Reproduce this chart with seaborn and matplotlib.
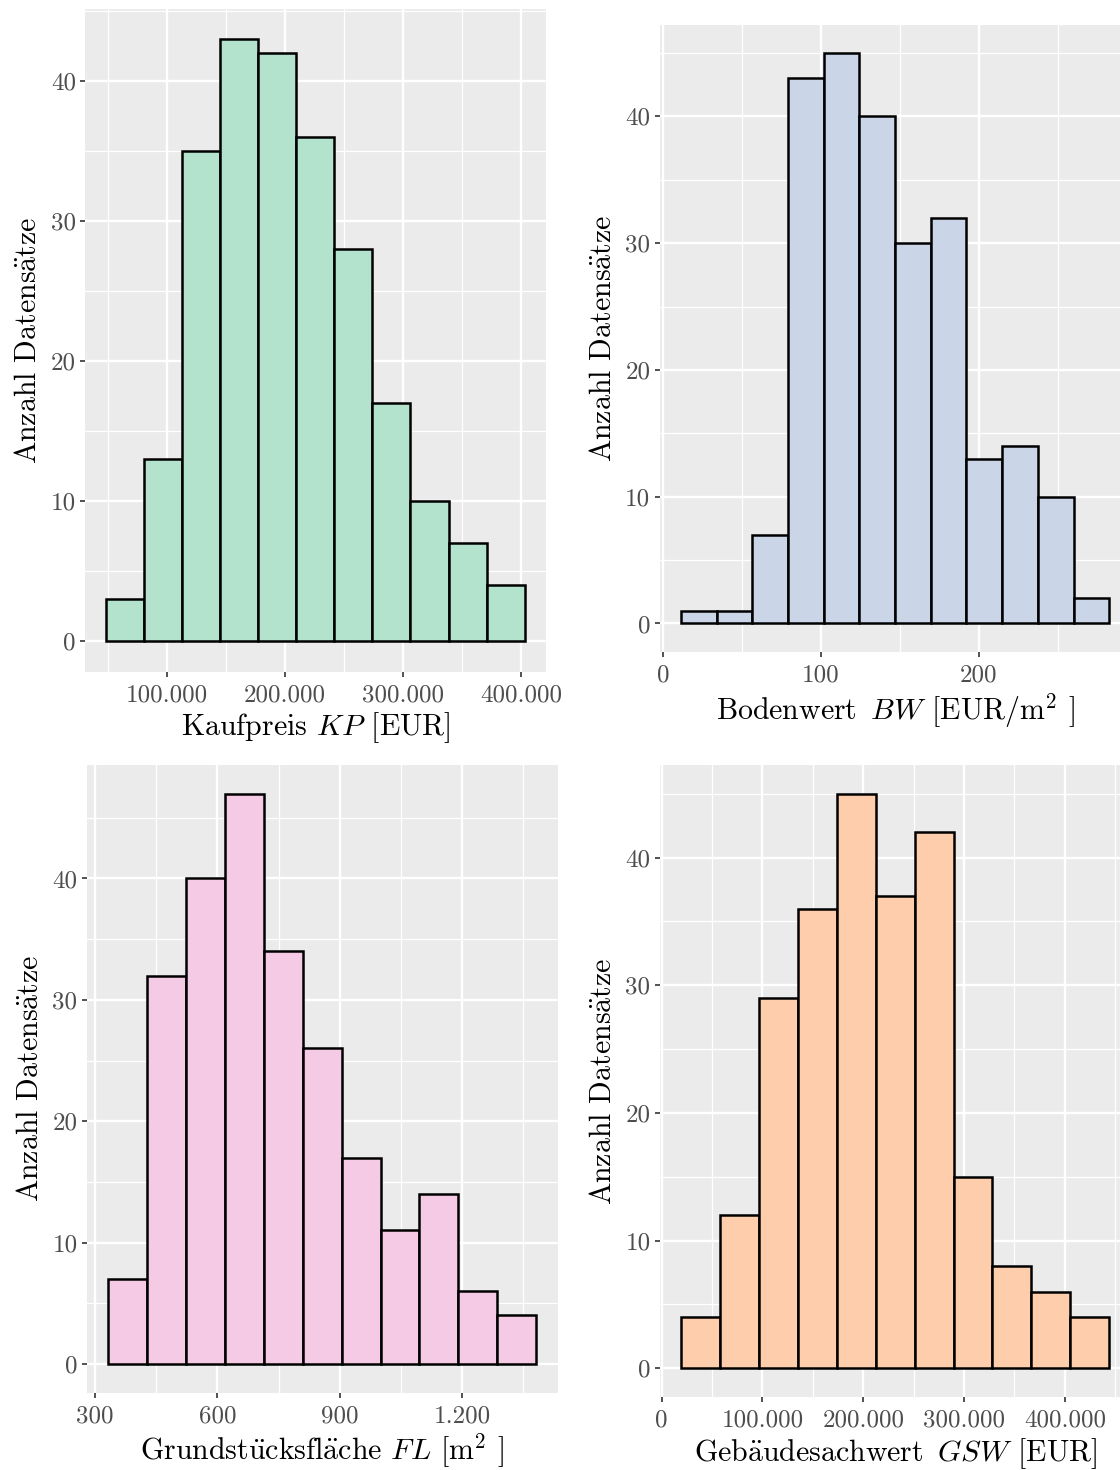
import numpy as np
import pandas as pd
import matplotlib
matplotlib.use("Agg")
import matplotlib.pyplot as plt
from matplotlib.ticker import MultipleLocator, FuncFormatter
import seaborn as sns

# Bin counts per variable (n = 238 transactions), with first bin edge and bin width
kp_counts = [3, 13, 35, 43, 42, 36, 28, 17, 10, 7, 4]
kp_start, kp_width = 48000, 32300

bw_counts = [1, 1, 7, 43, 45, 40, 30, 32, 13, 14, 10, 2]
bw_start, bw_width = 11.2, 22.63

fl_counts = [7, 32, 40, 47, 34, 26, 17, 11, 14, 6, 4]
fl_start, fl_width = 332, 95.4

gsw_counts = [4, 12, 29, 36, 45, 37, 42, 15, 8, 6, 4]
gsw_start, gsw_width = 19150, 38630

fills = ["#B3E2CD", "#CBD5E8", "#F4CAE4", "#FDCDAC"]

sns.set_style("darkgrid")
plt.rcParams.update({
    "font.family": "serif",
    "font.serif": ["cmr10"],
    "mathtext.fontset": "cm",
    "axes.unicode_minus": False,
    "axes.formatter.use_mathtext": True,
})

W, H = 1120, 1470
fig = plt.figure(figsize=(W / 100, H / 100), dpi=100)


def box(left, right, top, bottom):
    return [left / W, 1 - bottom / H, (right - left) / W, (bottom - top) / H]


def de_fmt(v, pos):
    return f"{v:,.0f}".replace(",", ".")


ylab = r"Anzahl Datens$\ddot{\mathrm{a}}$tze"

panels = [
    (kp_counts, kp_start, kp_width, fills[0], box(85.1, 545.6, 9, 671.5),
     100000, r"Kaufpreis $KP$ [EUR]"),
    (bw_counts, bw_start, bw_width, fills[1], box(659.5, 1130.7, 24.5, 652),
     100, r"Bodenwert $\,BW$ [EUR/m$^2$ ]"),
    (fl_counts, fl_start, fl_width, fills[2], box(86.6, 557.7, 765, 1392.5),
     300, r"Grundst$\ddot{\mathrm{u}}$cksfl$\ddot{\mathrm{a}}$che $FL$ [m$^2$ ]"),
    (gsw_counts, gsw_start, gsw_width, fills[3], box(659.6, 1130.7, 765, 1397),
     100000, r"Geb$\ddot{\mathrm{a}}$udesachwert $\,GSW$ [EUR]"),
]

for counts, start, width, color, rect, xstep, xlabel in panels:
    ax = fig.add_axes(rect)
    n = len(counts)
    edges = start + width * np.arange(n + 1)
    centers = (edges[:-1] + edges[1:]) / 2
    df = pd.DataFrame({"value": centers, "count": counts})
    sns.histplot(data=df, x="value", weights="count", bins=n,
                 binrange=(edges[0], edges[-1]), ax=ax,
                 color=color, edgecolor="black", linewidth=1.8, alpha=1)

    ax.set_facecolor("#EBEBEB")
    for s in ax.spines.values():
        s.set_visible(False)
    ax.use_sticky_edges = False
    ax.margins(x=0.05, y=0.05)

    ax.xaxis.set_major_locator(MultipleLocator(xstep))
    ax.xaxis.set_minor_locator(MultipleLocator(xstep / 2))
    ax.yaxis.set_major_locator(MultipleLocator(10))
    ax.yaxis.set_minor_locator(MultipleLocator(5))
    ax.xaxis.set_major_formatter(FuncFormatter(de_fmt))
    ax.yaxis.set_major_formatter(FuncFormatter(de_fmt))

    ax.grid(which="major", color="white", linewidth=1.7)
    ax.grid(which="minor", color="white", linewidth=0.9)
    ax.set_axisbelow(True)

    ax.tick_params(which="major", bottom=True, left=True, length=3.6,
                   width=1.2, color="#333333", labelsize=18,
                   labelcolor="#4D4D4D")
    ax.tick_params(axis="x", which="major", pad=5.5)
    ax.tick_params(axis="y", which="major", pad=3)
    ax.tick_params(which="minor", length=0)

    ax.set_xlabel(xlabel, fontsize=21.5, color="black", labelpad=3)
    ax.set_ylabel(ylab, fontsize=21.5, color="black", labelpad=6)

fig.savefig("out.png", dpi=100)
